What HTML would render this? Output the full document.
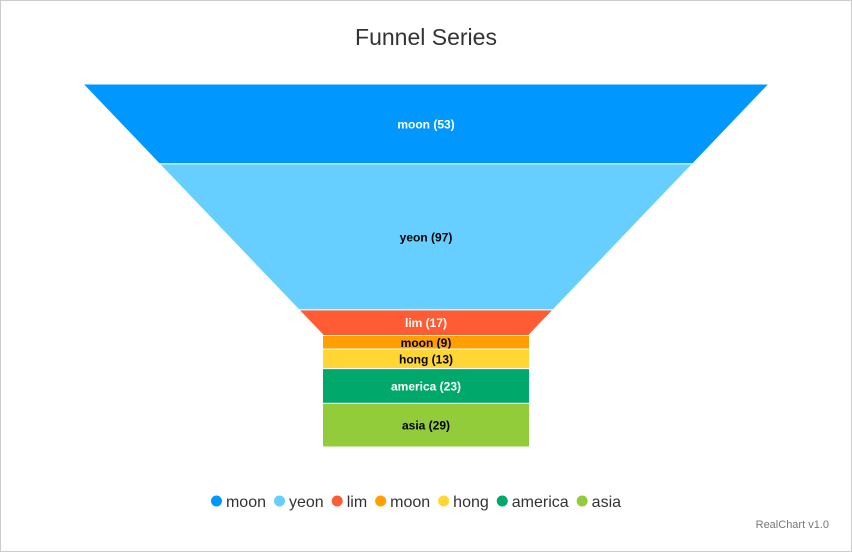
<!DOCTYPE html>
<html><head><meta charset="utf-8"><style>
html,body{margin:0;padding:0;background:#fff;}
#wrap{position:relative;width:850px;height:550px;border:1px solid #ccc;font-family:"Liberation Sans",sans-serif;}
</style></head><body>
<div id="wrap">
<svg id="svg" width="850" height="550" xmlns="http://www.w3.org/2000/svg">
<text x="425" y="44" text-anchor="middle" font-size="23" fill="#333" font-family="Liberation Sans, sans-serif">Funnel Series</text>
<g id="funnel"></g>
<g id="legend"></g>
<text x="828" y="527" text-anchor="end" font-size="11" fill="#777" font-family="Liberation Sans, sans-serif">RealChart v1.0</text>
</svg>
</div>
<script>
const categories = ["moon","yeon","lim","moon","hong","america","asia"];
const values = [53,97,17,9,13,23,29];
const colors = ["#0098ff","#66cfff","#ff5c35","#ff9f00","#ffd633","#00a86b","#92cc3a"];
const labelColors = ["#fff","#000","#fff","#000","#000","#fff","#000"];
{
const NS="http://www.w3.org/2000/svg";
const g=document.getElementById('funnel');
const topY=83, bottomY=446, cx=425, topW=686, neckW=207, neckFrac=0.31;
const total=values.reduce((a,b)=>a+b,0);
const H=bottomY-topY, neckY=bottomY-H*neckFrac;
const wAt=function(yy){ if(yy>=neckY) return neckW; return topW-(topW-neckW)*(yy-topY)/(neckY-topY); };
let y=topY;
values.forEach((v,i)=>{
  const h=v/total*H, y2=y+h;
  let pts=[[cx-wAt(y)/2,y],[cx+wAt(y)/2,y]];
  if(y<neckY && y2>neckY){pts.push([cx+neckW/2,neckY],[cx+neckW/2,y2],[cx-neckW/2,y2],[cx-neckW/2,neckY]);}
  else pts.push([cx+wAt(y2)/2,y2],[cx-wAt(y2)/2,y2]);
  const p=document.createElementNS(NS,'polygon');
  p.setAttribute('points',pts.map(a=>a.join(',')).join(' '));
  p.setAttribute('fill',colors[i]);p.setAttribute('stroke','#fff');p.setAttribute('stroke-width','1');
  
  
  g.appendChild(p);
  const t=document.createElementNS(NS,'text');
  t.setAttribute('x',cx);t.setAttribute('y',(y+y2)/2+4.5);t.setAttribute('text-anchor','middle');
  t.setAttribute('font-size','12');t.setAttribute('font-weight','bold');t.setAttribute('fill',labelColors[i]);
  t.setAttribute('font-family','Liberation Sans, sans-serif');
  t.textContent=categories[i]+' ('+v+')';
  
  
  g.appendChild(t);
  y=y2;
});
const lg=document.getElementById('legend');
const FS=16;
let items=[], tw=0;
const tmp=document.createElementNS(NS,'text');tmp.setAttribute('font-size',FS);tmp.setAttribute('font-family','Liberation Sans, sans-serif');lg.appendChild(tmp);
categories.forEach(c=>{tmp.textContent=c;const cw=tmp.getComputedTextLength();items.push(cw);tw+=11+4+cw+8;});
lg.removeChild(tmp);
tw-=8;
let x=415-tw/2;
categories.forEach((c,i)=>{
  const ci=document.createElementNS(NS,'circle');
  ci.setAttribute('cx',x+5.5);ci.setAttribute('cy',500);ci.setAttribute('r',5.5);ci.setAttribute('fill',colors[i]);
  
  
  lg.appendChild(ci);
  const t=document.createElementNS(NS,'text');
  t.setAttribute('x',x+15);t.setAttribute('y',506);t.setAttribute('font-size',FS);t.setAttribute('fill','#333');
  t.setAttribute('font-family','Liberation Sans, sans-serif');t.textContent=c;
  
  
  lg.appendChild(t);
  x+=11+4+items[i]+8;
});
}
</script>
</body></html>
